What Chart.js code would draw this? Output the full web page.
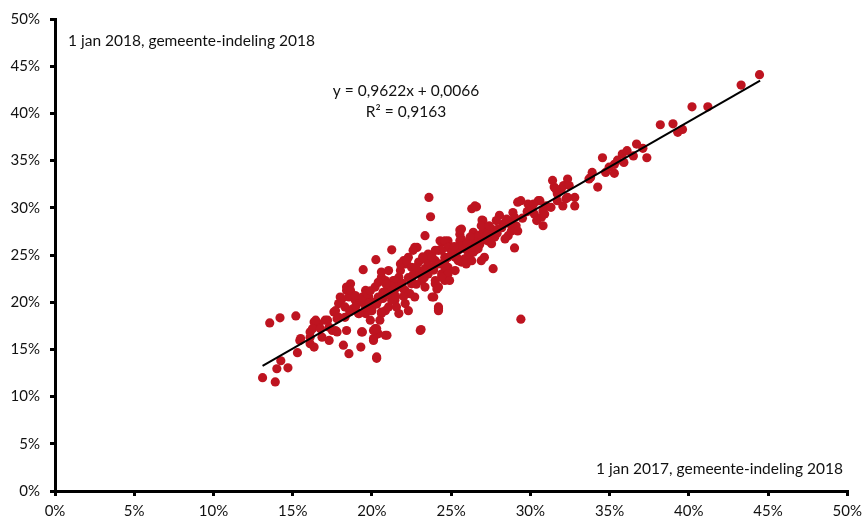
<!DOCTYPE html>
<html>
<head>
<meta charset="utf-8">
<script src="https://cdn.jsdelivr.net/npm/chart.js@4.4.1/dist/chart.umd.min.js"></script>
<style>
  html, body { margin: 0; padding: 0; background: #fff; }
  #wrap { width: 868px; height: 523px; }
</style>
</head>
<body>
<div id="wrap"><canvas id="graph1" width="868" height="523"></canvas></div>
<script>
// share per gemeente (%), x = 1 jan 2017, y = 1 jan 2018
const lowTail = [
  [13.1,12.0],[13.9,11.55],[13.55,17.8],[14.2,18.35],[15.2,18.55],[14.0,12.95],[14.25,13.8],
  [14.7,13.05],[15.3,14.65],[15.45,15.95],[15.5,16.15],[16.1,16.85],[16.35,17.9],[16.1,15.6],
  [16.35,15.25],[16.65,17.7],[16.85,16.3],[17.2,18.1],[17.3,15.95],[16.45,18.1],[16.25,17.2],
  [16.75,17.2],[16.1,16.3],[17.05,18.1],[17.3,17.35],[17.6,18.95],[17.8,18.25],[17.7,19.1],
  [17.7,17.0],[17.5,17.0],[17.8,16.85],[17.9,18.4],[17.9,19.85],[18.0,20.55],[18.3,18.4],
  [18.4,17.0],[18.2,15.45],[18.55,14.55],[18.4,21.25],[18.65,21.95],[18.4,21.6],[18.55,20.55],
  [18.95,20.2],[18.1,20.35],[18.3,19.5],[18.65,21.25],[18.95,20.7],[19.15,18.8],[19.35,16.85],
  [19.3,15.25],[19.4,16.85],[18.8,19.3],[18.6,19.0],[19.0,19.6]
];
const mainCloud = [
  [19.45,23.45],[19.6,21.25],[19.8,20.55],[19.4,20.0],[20.0,19.5],[19.6,18.8],[19.2,18.8],
  [19.9,18.1],[20.2,17.2],[20.4,16.65],[20.1,16.15],[20.3,14.05],[20.1,17.0],[20.3,17.2],
  [20.95,16.5],[20.5,18.1],[20.85,19.1],[20.0,19.1],[20.1,15.95],[19.4,20.55],[19.6,19.5],
  [20.0,20.0],[20.4,20.55],[20.2,21.6],[20.7,21.05],[21.05,21.6],[20.6,22.65],[21.35,22.3],
  [21.7,22.65],[21.8,23.35],[22.1,24.05],[22.5,23.7],[22.95,24.25],[22.3,24.75],[22.85,25.8],
  [23.55,25.1],[24.2,25.5],[24.0,24.4],[24.6,24.4],[24.8,23.7],[24.4,23.0],[23.55,23.0],
  [23.15,22.3],[22.5,21.95],[22.1,21.25],[21.45,20.2],[21.05,19.5],[20.6,18.8],[21.7,18.8],
  [22.3,19.1],[22.7,20.55],[23.35,21.6],[24.0,21.95],[24.6,22.3],[25.25,23.35],[25.65,24.25],
  [26.1,24.75],[26.5,25.5],[25.45,25.5],[25.85,26.2],[24.8,26.5],[25.55,27.2],[20.25,24.5],
  [21.25,25.55],[22.7,25.8],[22.6,25.5],[22.0,24.4],[21.8,24.05],[22.2,24.4],[21.05,23.35],
  [20.6,23.2],[20.85,22.3],[20.4,22.1],[22.9,23.35],[23.35,23.55],[23.8,23.7],[24.2,24.05],
  [24.6,24.75],[24.4,26.35],[24.8,26.2],[25.05,25.5],[25.35,24.75],[25.85,25.65],[25.85,24.6],
  [26.3,25.3],[25.65,26.7],[26.4,27.4],[26.7,27.05],[27.1,27.6],[27.55,27.75],[26.9,26.5],
  [24.1,21.4],[23.8,20.55],[24.2,19.3],[23.05,17.0],[22.0,21.4],[21.45,22.3],[22.5,22.3],
  [22.4,20.9],[22.1,19.85],[21.55,19.5],[20.85,20.9],[20.4,20.2],[21.25,20.2],[20.6,18.95],
  [20.85,16.5],[20.3,14.2],[23.6,31.1],[23.7,29.05],[23.35,27.05],[25.55,27.65],[24.2,19.1],
  [23.1,17.1],[19.8,19.9],[20.3,19.8],[20.7,20.4],[21.0,20.8],[21.4,21.1],[21.6,21.6],
  [21.9,22.0],[22.3,22.6],[22.6,22.9],[23.0,23.0],[23.3,22.6],[22.8,21.9],[21.2,21.7],
  [20.9,21.9],[19.7,20.9],[19.9,21.2],[21.5,20.6],[22.0,20.6],[22.8,23.7],[23.5,24.3],
  [23.2,24.8],[23.9,23.4],[24.3,26.5],[24.6,26.5],[24.8,25.8],[25.05,25.3],[24.4,25.5],
  [24.0,25.5],[23.8,24.75],[24.8,24.75],[25.25,24.75],[25.45,24.4],[25.95,24.05],[26.3,24.4],
  [27.1,24.75],[26.9,24.4],[24.6,23.7],[24.8,23.0],[24.4,22.65],[24.9,22.3],[24.2,21.6],
  [24.0,22.3],[23.9,20.55],[24.2,19.5],[25.65,27.75],[25.55,26.5],[25.65,26.0],[26.1,25.1],
  [26.4,25.3],[26.7,25.65],[27.65,23.55],[27.0,27.4],[26.7,26.9],[26.5,26.35],[26.3,25.8],
  [27.1,26.9],[26.2,26.9],[26.0,26.2],[25.2,25.9],[26.8,26.1],[27.7,27.0]
];
const upperTail = [
  [29.4,18.2],[29.0,25.75],[26.3,29.9],[26.6,30.1],[26.5,30.2],[26.95,28.7],[28.3,28.3],
  [27.95,27.75],[27.65,27.4],[27.75,26.9],[27.3,26.5],[27.55,26.2],[29.1,28.1],[28.8,27.55],
  [28.6,27.05],[28.4,26.7],[29.2,27.55],[27.0,28.65],[26.9,28.1],[28.05,29.2],[27.85,28.65],
  [28.9,29.5],[29.0,29.0],[29.4,30.75],[29.85,30.4],[29.2,30.6],[30.5,30.75],[31.0,30.2],
  [30.8,29.7],[30.25,29.35],[30.7,29.0],[30.8,28.1],[30.4,28.65],[32.8,31.1],[32.8,30.2],
  [32.05,30.2],[32.25,30.95],[31.4,32.9],[31.5,32.2],[31.95,32.0],[31.7,31.5],[32.1,32.35],
  [33.9,33.75],[33.8,33.2],[34.25,32.2],[32.35,33.05],[31.6,32.0],[32.45,32.35],[30.6,30.75],
  [30.9,29.35],[31.7,30.75],[31.3,30.05],[32.35,31.1],[33.7,33.05],[34.75,33.75],[35.3,33.65],
  [34.97,34.3],[35.3,34.6],[35.9,34.8],[35.5,35.05],[34.55,35.3],[36.5,35.5],[35.8,35.7],
  [36.1,36.05],[37.35,35.3],[37.1,36.3],[36.7,36.75],[39.3,38.0],[39.6,38.3],[38.2,38.8],
  [39.0,38.9],[40.2,40.7],[41.2,40.7],[43.3,43.0],[44.46,44.1],[27.3,27.2],[27.9,27.3],
  [28.2,27.9],[28.7,28.3],[29.5,28.9],[29.8,29.6],[30.1,29.9],[30.2,30.4],[28.5,28.8],
  [27.4,28.1]
];

// trendlijn (Excel): y = 0,9622x + 0,0066, eindpunten
const trendX = [13.1, 44.5];
const trendY = [13.26, 43.48];

const annotations = [
  { text: '1 jan 2018, gemeente-indeling 2018', x: 68, y: 41, align: 'left' },
  { text: 'y = 0,9622x + 0,0066', x: 406, y: 91, align: 'center' },
  { text: 'R² = 0,9163', x: 406, y: 112, align: 'center' },
  { text: '1 jan 2017, gemeente-indeling 2018', x: 843, y: 469, align: 'right' }
];

const FONT = 'Lato, "Open Sans", sans-serif';
const allPoints = lowTail.concat(mainCloud, upperTail).map(p => ({ x: p[0], y: p[1] }));

const textPlugin = {
  id: 'texts',
  afterDraw(chart) {
    const ctx = chart.ctx;
    ctx.save();
    ctx.fillStyle = '#111';
    ctx.font = '15.5px ' + FONT;
    ctx.textBaseline = 'middle';
    annotations.forEach(a => {
      ctx.textAlign = a.align;
      ctx.fillText(a.text, a.x, a.y);
    });
    ctx.restore();
  }
};

const axis = (pos) => ({
  type: 'linear',
  position: pos,
  min: 0,
  max: 50,
  border: { display: true, color: '#000', width: 3 },
  grid: { drawOnChartArea: false, drawTicks: true, tickLength: 5, color: '#000', lineWidth: 3 },
  ticks: {
    stepSize: 5,
    color: '#111',
    padding: pos === 'left' ? 10 : 6,
    font: { family: FONT, size: 15 },
    callback: v => v + '%'
  },
  afterFit: s => { if (pos === 'left') s.width = 55; else s.height = 32; }
});

new Chart(document.getElementById('graph1').getContext('2d'), {
  type: 'scatter',
  data: {
    datasets: [{
      type: 'line',
      data: trendX.map((x, i) => ({ x: x, y: trendY[i] })),
      borderColor: '#000',
      borderWidth: 2,
      pointRadius: 0,
      fill: false,
      order: 0
    }, {
      data: allPoints,
      backgroundColor: 'rgb(190,20,32)',
      borderWidth: 0,
      pointRadius: 4.6,
      pointHoverRadius: 4.6,
      order: 1
    }]
  },
  options: {
    responsive: false,
    maintainAspectRatio: false,
    animation: false,
    layout: { padding: { top: 18, right: 17, left: 0, bottom: 0 } },
    plugins: { legend: { display: false }, tooltip: { enabled: false } },
    scales: { x: axis('bottom'), y: axis('left') }
  },
  plugins: [textPlugin]
});
</script>
</body>
</html>
